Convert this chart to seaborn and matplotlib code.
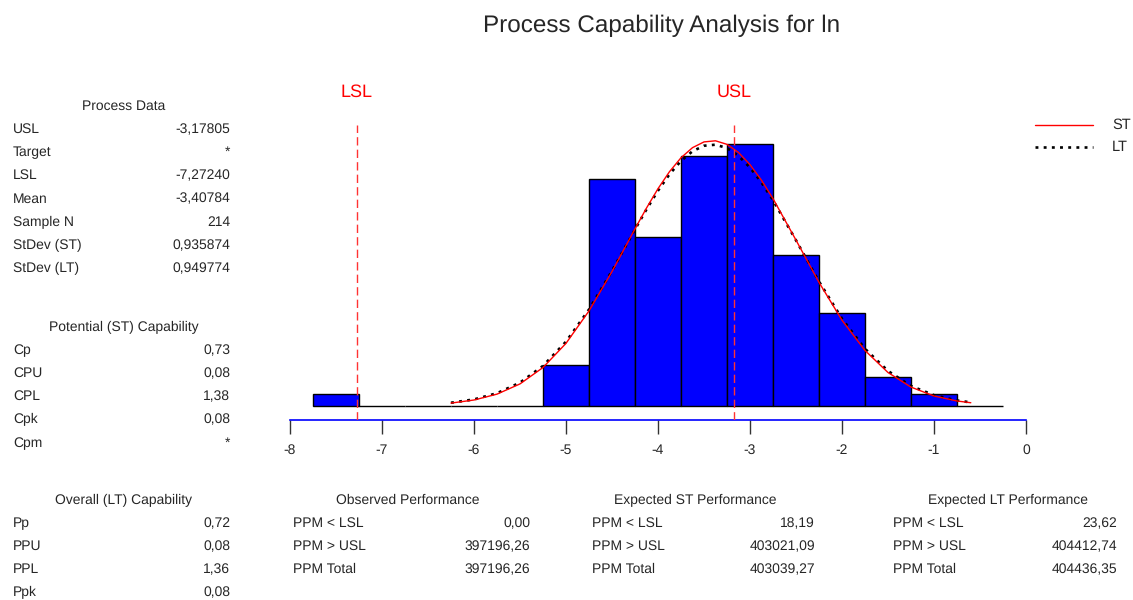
import numpy as np
import pandas as pd
import seaborn as sns
import matplotlib.pyplot as plt
import matplotlib.lines as mlines
import matplotlib.transforms as mtransforms

sns.set_style("white")
plt.rcParams['font.family'] = ['Liberation Sans', 'DejaVu Sans']
plt.rcParams['text.hinting'] = 'no_hinting'

# histogram data (bins of 0.5, counts)
bin_edges = [-7.75, -7.25, -6.75, -6.25, -5.75, -5.25, -4.75, -4.25,
             -3.75, -3.25, -2.75, -2.25, -1.75, -1.25, -0.75, -0.25]
counts = [2, 0, 0, 0, 0, 7, 39, 29, 43, 45, 26, 16, 5, 2, 0]

# fitted curves (ST / LT), in count units
curve_x = [-6.25, -6.0, -5.75, -5.5, -5.25, -5.0, -4.75, -4.5, -4.25, -4.125,
           -4.0, -3.875, -3.75, -3.625, -3.5, -3.375, -3.25, -3.125, -3.0,
           -2.875, -2.75, -2.5, -2.25, -2.0, -1.75, -1.5, -1.25, -1.0, -0.75, -0.6]
st_curve = [0.45, 0.98, 1.99, 3.75, 6.57, 10.73, 16.31, 23.08, 30.43, 34.01,
            37.34, 40.27, 42.66, 44.40, 45.39, 45.58, 44.97, 43.57, 41.48,
            38.79, 35.63, 28.49, 21.22, 14.71, 9.50, 5.71, 3.20, 1.67, 0.81, 0.51]
lt_curve = [0.51, 1.08, 2.15, 3.97, 6.85, 11.02, 16.56, 23.20, 30.33, 33.79,
            37.00, 39.82, 42.12, 43.78, 44.73, 44.91, 44.33, 42.99, 40.98,
            38.40, 35.35, 28.46, 21.37, 14.98, 9.80, 5.98, 3.40, 1.81, 0.90, 0.57]

lsl = -7.27240
usl = -3.17805
x_ticks = [-8, -7, -6, -5, -4, -3, -2, -1, 0]

process_labels = ['USL', 'Target', 'LSL', 'Mean', 'Sample N', 'StDev (ST)', 'StDev (LT)']
process_values = ['-3,17805', '*', '-7,27240', '-3,40784', '214', '0,935874', '0,949774']
st_labels = ['Cp', 'CPU', 'CPL', 'Cpk', 'Cpm']
st_values = ['0,73', '0,08', '1,38', '0,08', '*']
lt_labels = ['Pp', 'PPU', 'PPL', 'Ppk']
lt_values = ['0,72', '0,08', '1,36', '0,08']
ppm_labels = ['PPM < LSL', 'PPM > USL', 'PPM Total']
observed_ppm = ['0,00', '397196,26', '397196,26']
expected_st_ppm = ['18,19', '403021,09', '403039,27']
expected_lt_ppm = ['23,62', '404412,74', '404436,35']

W, H = 1133, 600
fig = plt.figure(figsize=(W / 100, H / 100), dpi=100)


def fx(x):
    return x / W


def fy(y):
    return 1 - y / H


st_style = dict(color='red', lw=1.0, ls='-')
lt_style = dict(color='black', lw=1.9, ls=(0, (1.1, 2.0)))

# histogram axes
ax = fig.add_axes([fx(290), fy(420), fx(1026) - fx(290), fy(100) - fy(420)])
centers = [(a + b) / 2 for a, b in zip(bin_edges[:-1], bin_edges[1:])]
df = pd.DataFrame({'x': centers, 'n': counts})
sns.histplot(data=df, x='x', weights='n', bins=bin_edges, ax=ax,
             color='#0000ff', edgecolor='black', linewidth=1.0, alpha=1.0)

ax.plot(curve_x, lt_curve, zorder=4, **lt_style)
ax.plot(curve_x, st_curve, zorder=5, **st_style)

ax.set_xlim(-8, 0)
ax.set_ylim(-2.46, 52.6)
ax.vlines([lsl, usl], -2.46, 48.3, colors='#ff3333', linestyles=(0, (6, 3)), lw=1.0, zorder=6)

trans = mtransforms.blended_transform_factory(ax.transData, fig.transFigure)
for v, name in [(lsl, 'LSL'), (usl, 'USL')]:
    fig.text(v, fy(92), name, transform=trans, color='red', fontsize=13,
             ha='center', va='center')

for s in ['left', 'top', 'right']:
    ax.spines[s].set_visible(False)
ax.spines['bottom'].set_color('#0000ff')
ax.spines['bottom'].set_linewidth(1.2)
ax.set_yticks([])
ax.set_xticks(x_ticks)
ax.set_xticklabels([str(t) for t in x_ticks])
ax.tick_params(axis='x', direction='out', length=10, width=1, color='#333333',
               labelsize=10, pad=7, bottom=True)
ax.set_xlabel('')
ax.set_ylabel('')

# legend, drawn by hand at the right edge
for style, name, y in [(st_style, 'ST', 125), (lt_style, 'LT', 147)]:
    fig.add_artist(mlines.Line2D([fx(1035), fx(1093)], [fy(y), fy(y)],
                                 transform=fig.transFigure, **style))
    fig.text(fx(1112), fy(y), name, fontsize=10.5, ha='left', va='center')

# title
fig.text(fx(662), fy(26), 'Process Capability Analysis for ln', fontsize=17.5,
         ha='center', va='center')

fs = 10


def table(title, cx, ty, lx, rx, names, vals, step=23.2):
    fig.text(fx(cx), fy(ty), title, fontsize=fs, ha='center', va='center')
    for i, (n, v) in enumerate(zip(names, vals)):
        y = ty + step * (i + 1)
        fig.text(fx(lx), fy(y), n, fontsize=fs, ha='left', va='center')
        fig.text(fx(rx), fy(y), v, fontsize=fs, ha='right', va='center')


table('Process Data', 124, 106, 13, 230, process_labels, process_values)
table('Potential (ST) Capability', 124, 327, 13, 230, st_labels, st_values)
table('Overall (LT) Capability', 124, 500, 13, 230, lt_labels, lt_values)
table('Observed Performance', 408, 500, 293, 530, ppm_labels, observed_ppm)
table('Expected ST Performance', 695, 500, 592, 815, ppm_labels, expected_st_ppm)
table('Expected LT Performance', 1008, 500, 893, 1117, ppm_labels, expected_lt_ppm)

fig.savefig('out.png', dpi=100)
